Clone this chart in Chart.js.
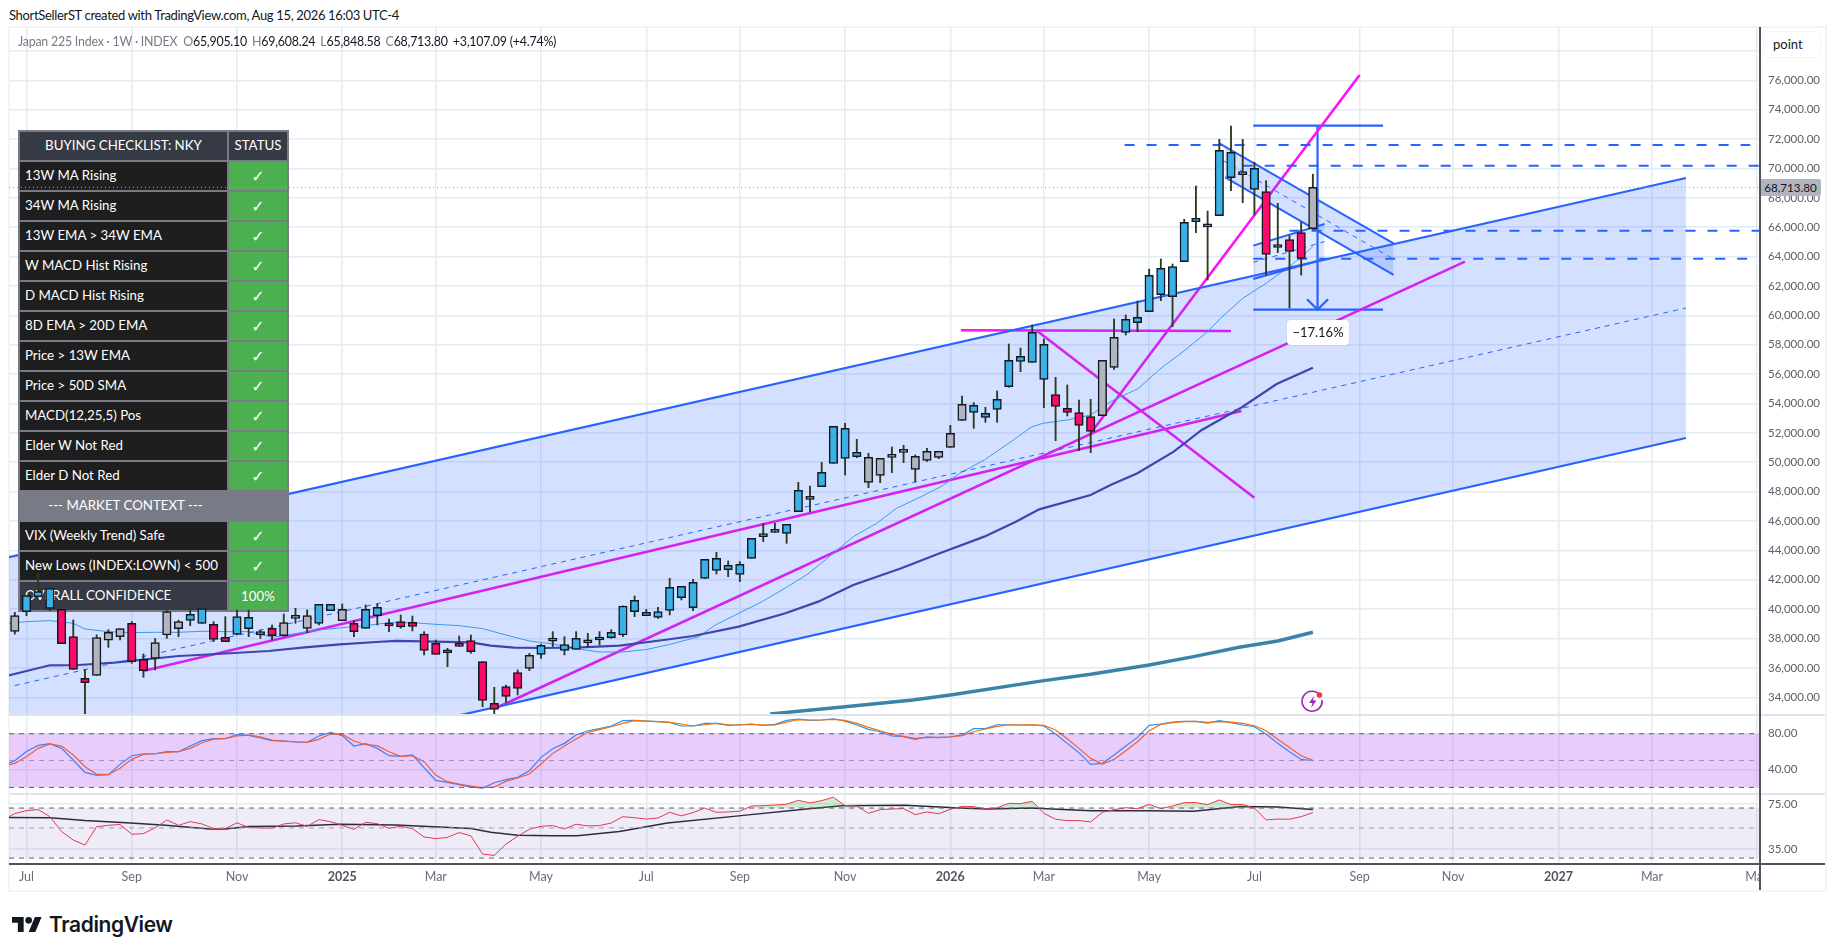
<!DOCTYPE html>
<html>
<head>
<meta charset="utf-8">
<title>Japan 225 Index</title>
<script src="https://cdn.jsdelivr.net/npm/chart.js@4"></script>
<style>
  html, body { margin: 0; width: 1835px; height: 951px; overflow: hidden; background: #fff; font-family: Lato, sans-serif; }
  canvas { position: absolute; display: block; }
  .box { position: absolute; box-sizing: border-box; }
  #frame { left: 8px; top: 26px; width: 1819px; height: 866px; border: 2px solid #f3f4f6; z-index: 0; }
  #credit { position: absolute; left: 9px; top: 7px; font-size: 13px; letter-spacing: -0.33px; color: #131722; white-space: nowrap; }
  #legend { position: absolute; left: 18px; top: 34px; font-size: 12.4px; letter-spacing: -0.22px; color: #131722; white-space: nowrap; z-index: 4; }
  #legend span { color: #787b86; }
  #legend b { font-weight: 400; margin-right: 5px; }
  #checklist { position: absolute; left: 18px; top: 130px; width: 271px; background: #787b86; padding: 2px; box-sizing: border-box;
    display: grid; grid-template-columns: 207px 58px; grid-auto-rows: 28px; gap: 2px; z-index: 2; font-size: 13.3px; color: #fff; }
  #checklist div { display: flex; align-items: center; padding: 0 0 2px 5px; box-sizing: border-box; white-space: nowrap; background: #1e1e1e; }
  #checklist .head { background: #363a45; justify-content: center; padding: 0 0 2px 0; }
  #checklist .ok { background: #4caf50; justify-content: center; padding: 0; font-family: "DejaVu Sans"; font-weight: 700; font-size: 16px; }
  #checklist .pct { background: #4caf50; justify-content: center; padding: 0; }
  #checklist .ctx { grid-column: 1 / 3; background: #787b86; justify-content: center; padding: 0 56px 2px 0; }
  #checklist .sum { background: #363a45; }
  #pointBox { left: 1763px; top: 31px; width: 58px; height: 27px; background: #fff; border: 1px solid #f0f3fa; border-radius: 5px;
    font-size: 13px; color: #131722; padding: 4px 0 0 9px; z-index: 5; }
  #lastPrice { left: 1760px; top: 179px; width: 61px; height: 17px; background: #b2b5be; border-radius: 0 2px 2px 0; color: #131722;
    font-size: 11.6px; line-height: 17px; text-align: center; z-index: 5; }
  #rangeLabel { left: 1287px; top: 320px; width: 62px; height: 25px; background: #fff; border-radius: 4px; color: #131722;
    font-size: 13px; line-height: 25px; text-align: center; z-index: 5; box-shadow: 0 0 2px rgba(0,0,0,.12); }
  #axisV { left: 1759px; top: 27px; width: 1.5px; height: 863px; background: #50535e; z-index: 6; }
  #axisH { left: 9px; top: 863px; width: 1816px; height: 1.5px; background: #50535e; z-index: 6; }
  #sep1, #sep2 { left: 9px; width: 1816px; height: 1.5px; background: #e0e3eb; z-index: 1; }
  #sep1 { top: 714px; } #sep2 { top: 793px; }
  #corner { left: 1760px; top: 865px; width: 65px; height: 25px; background: #fff; z-index: 5; }
  #bolt { position: absolute; left: 1300px; top: 689px; z-index: 5; }
  #logo { position: absolute; left: 12px; top: 912px; display: flex; align-items: center; gap: 7px; }
  #logo span { font-family: Inter, sans-serif; font-weight: 600; font-size: 21px; letter-spacing: -0.4px; color: #131722; }
</style>
</head>
<body>
<div id="credit">ShortSellerST created with TradingView.com, Aug 15, 2026 16:03 UTC-4</div>
<div class="box" id="frame"></div>
<div id="legend"><span>Japan 225 Index · 1W · INDEX</span>&nbsp; <b><span>O</span>65,905.10</b><b><span>H</span>69,608.24</b><b><span>L</span>65,848.58</b><b><span>C</span>68,713.80</b><b>+3,107.09 (+4.74%)</b></div>

<canvas id="priceBack" width="1816" height="687" style="left:9px;top:27px;z-index:1"></canvas>
<div id="checklist"></div>
<canvas id="priceFront" width="1750" height="687" style="left:9px;top:27px;z-index:3"></canvas>
<canvas id="stochPane" width="1816" height="79" style="left:9px;top:714px;z-index:1"></canvas>
<canvas id="rsiPane" width="1816" height="97" style="left:9px;top:793px;z-index:1"></canvas>

<div class="box" id="sep1"></div>
<div class="box" id="sep2"></div>
<div class="box" id="axisV"></div>
<div class="box" id="axisH"></div>
<div class="box" id="corner"></div>
<div class="box" id="pointBox">point</div>
<div class="box" id="lastPrice">68,713.80</div>
<div class="box" id="rangeLabel">−17.16%</div>
<svg id="bolt" width="26" height="26" viewBox="0 0 26 26">
  <path d="M19.5 5.5 A10 10 0 1 0 22 11" fill="none" stroke="#9c27b0" stroke-width="1.6"/>
  <path d="M14 7 L9 14 H12.5 L11 19 L16.5 11.5 H13 Z" fill="#9c27b0"/>
  <circle cx="19.5" cy="6" r="2.8" fill="#f23645"/>
</svg>
<div id="logo">
  <svg width="30" height="15" viewBox="0 4 36 18"><path d="M14 22H7V11H0V4h14v18zM28 22h-8l7.5-18h8L28 22z" fill="#131722"/><circle cx="20" cy="8" r="4" fill="#131722"/></svg>
  <span>TradingView</span>
</div>

<script>
// weeks are counted from the first week of Jul 2024 (= 0)
const firstCandleWeek = -1;
const opens = [38491,39829,40850,40056,39988,38128,35292,35496,37880,38128,39035,36585,36653,38241,38673,39239,39035,38967,38083,38286,38673,38270,38695,38196,39374,38695,39035,39897,39217,39035,38695,39557,38990,39149,39104,38309,37674,37055,37674,37856,36426,33590,34724,35677,35972,36925,37820,37198,37266,37705,37900,38060,38241,39829,39557,39444,39920,40782,40101,42098,42643,42688,42370,43460,44934,45229,45161,46636,47476,48338,49926,50267,50380,48633,49110,50335,50675,49518,50131,50335,51015,52853,53398,53057,53602,55145,56869,56801,55644,54600,53670,53375,53103,53171,56461,58844,59502,60251,61408,61272,63655,66377,66020,66786,69373,69577,68578,68420,64615,65152,65629,65905.10];
const highs = [39784,40919,42439,41418,39988,39262,35904,38250,38600,38673,39150,36948,38000,39900,39250,39942,40034,39149,39489,39942,39942,38580,38922,39671,40056,39942,40328,40328,40351,39217,40283,40351,39330,39602,39534,38468,37901,37334,38173,38241,36426,34679,34838,35859,36993,37629,38468,38128,38468,38354,38468,38600,40215,40896,39988,40124,42098,41554,42030,43391,43868,43278,43233,44821,45842,45842,45774,48633,48383,49994,52445,52649,51560,50607,50267,51038,51152,50494,50947,50743,52513,54510,54056,53738,54850,58049,57777,59343,58390,55780,55258,54237,54283,56938,59751,60024,60977,63155,63836,63495,66536,68805,67103,71982,72889,71982,70416,69168,67625,65424,66332,69608.24];
const lows = [38300,39557,40850,39897,37651,35904,32864,35496,37400,37900,36313,35360,35859,38014,38128,38876,39035,37800,37788,38240,38128,38014,37900,38150,39035,38400,38920,39897,39217,38128,38695,38922,38468,38700,38514,36880,36925,36086,37470,36993,33363,32864,33658,34157,35814,36653,37447,36880,37266,37402,37561,38014,38130,39489,39557,39375,39603,40624,39897,42098,42393,42212,41872,43460,44594,45229,44481,46636,46636,48338,49926,49132,50312,48270,48611,49291,49972,48678,50062,50244,51015,52853,52309,52717,52717,55100,56166,56801,53716,51469,53148,50789,50652,53171,56325,58663,58889,60251,61000,59230,63655,65629,62407,66786,68488,67671,66831,62747,64267,60500,62747,65848.58];
const closes = [39557,40919,41191,41418,37651,35904,34997,38060,38423,38673,36426,35814,37720,39829,39149,39648,40034,37946,37788,39489,39444,38300,38196,39081,39512,39557,40328,40328,39988,38468,39988,40124,38854,38786,38831,37198,36925,37025,37470,37107,33794,33181,34066,34611,36857,37538,37850,37583,38014,37735,38083,38423,40215,40601,39784,39829,41486,41554,41826,43391,43460,42983,43051,44821,45093,45365,45774,48088,47612,49314,52445,52309,50675,50335,50267,50539,50879,50403,50743,50743,51968,53943,53874,53330,54283,56938,57210,58843,58027,53806,53398,52513,52105,56938,58503,59729,59865,62724,63201,63314,66332,66604,66055,71233,71097,69736,70008,64154,64645,64358,63881,68713.80];
// b blue, p pink, g grey, one letter per candle
const candleKinds = [
  "g","bbb","ppp","ggg","pp","ggg","bb","pp","bbb","p","ggg","bb","g","p","bb",
  "pppppppppppp","g",
  "bbbbbbbbbbbbbbbbbbbbbbbbbbbb","ggggggggg","bbbbbbb",
  "pppp","gg","bbbbbbbbbbbb","p","b","pp","g"
].join("").split("");

// 78,000 sits behind the point button, so it keeps its grid line and has no label
const priceTicks = [78000,76000,74000,72000,70000,68000,66000,64000,62000,60000,58000,56000,54000,52000,50000,48000,46000,44000,42000,40000,38000,36000,34000];
const hiddenPriceLabel = 78000;
const timeWeeks = [0,9,18,27,35,44,53,61,70,79,87,96,105,114,122,131,139,148];
const timeLabels = ["Jul","Sep","Nov","2025","Mar","May","Jul","Sep","Nov","2026","Mar","May","Jul","Sep","Nov","2027","Mar","May"];
const lastClose = 68713.80;

const ma13Weeks = [-2,0,2,4,5,7,9,11,13,15,17,19,21,23,25,27,29,31,33,35,37,39,41,43,45,47,49,51,53,55,57.5,58.9,60.9,62.9,64.6,66.7,68.3,70.7,72.7,74.4,76.5,78.2,79.8,81.9,83.9,85.9,86.9,89,91,92.7,95.1,96.9,98.9,101,102.1,104,106,108,110];
const ma13Values = [39000,39149,39217,39035,38650,38468,38400,38423,38423,38491,38468,38468,38083,38330,38581,38740,38876,39081,39081,38967,38876,38673,38241,37833,37629,37311,37084,37084,37250,37600,38127,38922,39716,40510,41304,42325,43346,44935,45842,46863,47657,48338,49246,50153,51242,52377,52649,52876,53216,54124,55032,56326,57529,58890,59797,61159,62180,63314,64676];
const ma34Weeks = [-2,0,2,4.5,7.5,13,16.3,20.7,23.8,26.8,29.9,31.6,35,38,39.7,41.7,44.4,47.4,50.7,54.5,57,60.9,64.9,67.7,70.7,74.8,78.1,81.9,84.6,86.6,91,92.7,95,98.1,100.5,103.9,106.9,110];
const ma34Values = [35400,35791,36177,36199,36358,36812,36948,37152,37402,37606,37765,37833,37788,37742,37515,37379,37356,37402,37515,37901,38173,38808,39716,40510,41645,42779,43800,44935,45956,46795,47771,48452,49246,50720,52195,53727,55327,56437];
const ma200Weeks = [63.6,70,75.8,79,87,91,96,99.8,103.7,107,110];
const ma200Values = [32864,33363,33817,34157,35133,35564,36199,36767,37402,37833,38425];

// drawings: [week, price]
const channelUpper = [[-1.5,43540],[141.9,69350]];
const channelLower = [[-1.5,25840],[141.9,51650]];
const channelMid = [[-1,34800],[141.9,60500]];
const trendA = [[10.07,35812],[103.9,53489]];
const trendB = [[40.15,33272],[123,63652]];
const trendC = [[91,51971],[114,76361]];
const levelD = [[79.9,58982],[103,58933]];
const trendE = [[86.4,58950],[105,47587]];
const dashLevels = [
  [[93.9,71597],[147.4,71597]],
  [[104,70187],[148.2,70187]],
  [[108,65760],[148.2,65760]],
  [[104.9,63860],[147.2,63860]]
];
const flagUpper = [[102,71710],[116.9,64903]];
const flagLower = [[102.5,69395],[116.9,62747]];
const flagMid = [[102.3,70550],[116.9,63825]];
const riseUpper = [[104.9,64744],[111,66218]];
const riseLower = [[104.9,62475],[111,63836]];
const riseMid = [[104.9,63609],[111,65016]];
const rangeTop = [[104.9,72912],[116,72912]];
const rangeBottom = [[104.9,60387],[116,60387]];
const rangeStem = [[110.4,72912],[110.4,60387]];
const rangeHead = [[109.5,61091],[110.4,60387],[111.3,61091]];

// oscillators, one value per week from week -2 to 110
const oscStartWeek = -2;
const stochK = [44.6,49.8,60.2,66.9,68.8,63.6,50.6,36.8,33.4,34.2,45.7,55.4,57.6,57.6,59.9,59.9,66.2,72.2,74.4,74.4,78.9,78.1,75.2,72.2,71.8,70.7,70.3,77.4,81.5,77.8,66.2,68.8,63.6,55.4,54.7,56.2,42,27.9,25.6,23,20.4,19.3,25.2,28.6,31.2,38.6,53.6,63.2,69.2,78.5,83.3,85.6,88.6,94.5,94.9,94.1,93.4,92.7,88.6,88.6,91.5,91.5,89.3,90,90.8,89.3,90.4,94.9,96.4,94.9,95.3,96.7,94.1,89.7,84.8,82.2,77.4,76.6,73.7,76.6,75.5,76.6,78.5,85.6,85.6,90,90,89.7,90,88.6,79.6,69.2,58.8,45.7,46.9,56.2,66.2,75.9,89.3,90.8,93,93.8,93.8,91.9,94.5,92.3,89.7,87.8,79.6,69.2,59.9,51.3,49.8];
const stochD = [43.9,46.9,54.3,63.6,68.5,66.2,56.2,43.1,34.9,34.2,41.3,51.3,56.9,57.6,59.1,59.9,63.6,69.9,74,74.8,77.4,78.5,76.6,72.9,71.8,71,70.3,73.7,79.6,79.3,71.8,67.7,66.6,59.9,54.7,55.4,48.7,33.8,26.4,23.8,21.5,19.7,20.4,26.7,30.5,34.9,46.1,58,66.2,74,81.5,84.5,87.8,91.5,94.5,94.1,93.4,92.7,90.8,88.6,90,91.5,90,89.7,90.4,89.7,89.7,93,95.6,95.3,95.3,96,94.9,91.5,87.1,83.3,79.3,77,74.8,75.5,75.9,76.3,77.8,82.2,85.2,88.2,90,89.7,90,89.3,84.1,74.4,63.6,52.4,46.1,51.3,61,71,83.3,90.4,92.3,93.4,93.8,92.7,93.4,93,91.5,88.9,83.3,73.7,64.7,55.4,50.2];
const rsiLine = [57.2,63.7,67,68.2,60.5,47,40.7,37.4,51.1,52.2,53,44.9,45.4,50,57.2,52.2,55.6,53.5,49.4,49.4,54.5,50.3,50,49.7,53.5,54.5,51.4,57.5,55.6,52.2,48.8,55,53.7,49.7,51.4,49.4,42.9,41.7,42.6,46.2,43.7,32.1,31.4,38,43.4,48.8,51.4,52,49.1,53.2,51.7,52,54.3,60.5,59.4,58.1,59.1,65.1,61.3,64.8,70,65.1,65.5,66.3,72.5,72.9,73.7,74.6,79.8,76.3,79.4,84,72.9,72.5,64,68.1,68.9,69.3,62.6,65.5,63.6,68.5,72.1,71.7,68.9,70.4,75.8,75.4,78.4,64,57.9,56.6,56.6,55.3,65.1,68.1,70.4,69.3,74.6,69.3,72.5,76.7,76.7,74.2,80.3,74.2,74.2,70,57.2,58.1,57.9,60.5,64.8];
const rsiMaWeeks = [-2,2,5,8.9,11.9,15.7,17,19,23.1,26.8,31.6,38,39.7,42,45,47.1,50.7,54.8,60.9,66.9,69.7,75.1,79.8,82.2,85.9,91,96,99.8,103.8,107,110];
const rsiMaValues = [59.8,59.4,56.6,54.4,52.2,49.1,49.1,51.1,51.7,53.2,52.6,49.4,46.5,44.2,43.7,43.7,47,54.3,61.3,69.3,72.9,73.3,70,68.9,70,66.8,66.8,66.4,71.7,71.3,68.4];

const checklistRows = ["13W MA Rising","34W MA Rising","13W EMA > 34W EMA","W MACD Hist Rising","D MACD Hist Rising","8D EMA > 20D EMA","Price > 13W EMA","Price > 50D SMA","MACD(12,25,5) Pos","Elder W Not Red","Elder D Not Red"];
const contextRows = ["VIX (Weekly Trend) Safe","New Lows (INDEX:LOWN) < 500"];

const axisFont = "Lato";
const xMin = -1.4965, xMax = 148.15;
const gridColor = "#e4ecf3";
const pink = "#ff12ee";
const blue = "#2962ff";

function cell(cls, text) {
  const d = document.createElement("div");
  d.className = cls;
  d.textContent = text;
  document.getElementById("checklist").appendChild(d);
}
cell("head", "BUYING CHECKLIST: NKY");
cell("head", "STATUS");
checklistRows.forEach(r => { cell("", r); cell("ok", "✓"); });
cell("ctx", "--- MARKET CONTEXT ---");
contextRows.forEach(r => { cell("", r); cell("ok", "✓"); });
cell("sum", "OVERALL CONFIDENCE");
cell("pct", "100%");

const pairs = (xs, ys) => xs.map((x, i) => ({ x, y: ys[i] }));
const seg = (pts, color, width, extra = {}) => ({
  type: "line",
  data: pts.map(([x, y]) => ({ x, y })),
  borderColor: color,
  borderWidth: width,
  pointRadius: 0,
  fill: false,
  tension: 0,
  ...extra,
});
const oscData = (vals) => vals.map((y, i) => ({ x: oscStartWeek + i, y }));
const flat = (y) => [[xMin, y], [xMax, y]];
const isYear = (c) => /^20/.test(c.tick?.label || "");

function xScale(show) {
  return {
    type: "linear",
    min: xMin,
    max: xMax,
    bounds: "data",
    offset: false,
    afterBuildTicks(s) { s.ticks = timeWeeks.map(value => ({ value })); },
    afterFit(s) { s.height = show ? 27 : 0; s.paddingLeft = 0; s.paddingRight = 0; },
    border: { display: false },
    grid: { color: gridColor, lineWidth: 1.5, drawTicks: false, offset: false },
    ticks: {
      display: show,
      autoSkip: false,
      maxRotation: 0,
      padding: 6,
      callback: (v) => timeLabels[timeWeeks.indexOf(v)],
      font: (c) => ({ family: axisFont, size: 12.5, weight: isYear(c) ? "700" : "400" }),
      color: (c) => (isYear(c) ? "#50535e" : "#6a6d78"),
    },
  };
}

function yScale(type, min, max, tickVals, fmt) {
  return {
    type,
    position: "right",
    min,
    max,
    afterBuildTicks(s) { s.ticks = tickVals.map(value => ({ value })); },
    // tick padding would otherwise shrink the pane
    afterFit(s) { s.width = 66; s.paddingTop = 0; s.paddingBottom = 0; },
    border: { display: false },
    grid: { color: gridColor, lineWidth: 1.5, drawTicks: false },
    ticks: { autoSkip: false, padding: 9, color: "#5d606b", font: { family: axisFont, size: 11.5 }, callback: fmt },
  };
}

const baseOptions = (scales) => ({
  responsive: false,
  animation: false,
  devicePixelRatio: 1,
  layout: { autoPadding: false, padding: 0 },
  plugins: { legend: { display: false }, tooltip: { enabled: false } },
  scales,
});

const money = (v) => (v === hiddenPriceLabel ? "" : v.toLocaleString("en-US", { minimumFractionDigits: 2, maximumFractionDigits: 2 }));

// back layer of the price pane: everything that the checklist covers
new Chart(document.getElementById("priceBack"), {
  type: "line",
  data: {
    datasets: [
      seg(channelUpper, blue, 2.2, { fill: "+1", backgroundColor: "rgba(41,98,255,.2)" }),
      seg(channelLower, blue, 2.2),
      seg(channelMid, blue, 1, { borderDash: [5, 5] }),
      seg(flagUpper, blue, 2, { fill: "+1", backgroundColor: "rgba(41,98,255,.2)" }),
      seg(flagLower, blue, 2),
      seg(flagMid, blue, 1, { borderDash: [5, 5] }),
      seg(riseUpper, blue, 2, { fill: "+1", backgroundColor: "rgba(41,98,255,.15)" }),
      seg(riseLower, blue, 2),
      seg(riseMid, blue, 1, { borderDash: [5, 5] }),
      ...dashLevels.map(p => seg(p, blue, 2, { borderDash: [10, 12] })),
      { ...seg([], "#3c83aa", 3.5), data: pairs(ma200Weeks, ma200Values) },
      { ...seg([], "#403f9c", 2.2), data: pairs(ma34Weeks, ma34Values) },
      { ...seg([], "#42a5e8", 1), data: pairs(ma13Weeks, ma13Values) },
      seg(trendA, pink, 2.6),
      seg(trendB, pink, 2.6),
      seg(trendC, pink, 2.6),
      seg(levelD, pink, 2.6),
      seg(trendE, pink, 2.6),
      seg(rangeTop, blue, 2.2),
      seg(rangeBottom, blue, 2.2),
      seg(rangeStem, blue, 2.2),
      seg(rangeHead, blue, 2.2),
    ],
  },
  options: baseOptions({
    x: xScale(false),
    y: yScale("linear", 32862, 79628, priceTicks, money),
  }),
});

// front layer: candles and last price line sit above the checklist
const weekOf = (i) => firstCandleWeek + i;
const kindColor = { b: "#39b1e6", p: "#ff0a68", g: "#b2b5be" };
new Chart(document.getElementById("priceFront"), {
  type: "bar",
  data: {
    datasets: [
      {
        type: "line",
        data: flat(lastClose).map(([x, y]) => ({ x, y })),
        borderColor: "#a3a6af",
        borderWidth: 1,
        borderDash: [1, 3],
        pointRadius: 0,
        order: 3,
      },
      {
        data: highs.map((h, i) => ({ x: weekOf(i), y: [lows[i], h] })),
        backgroundColor: "#2a3a1c",
        borderWidth: 0,
        barThickness: 1.2,
        grouped: false,
        order: 2,
      },
      {
        data: opens.map((o, i) => ({ x: weekOf(i), y: [o, closes[i]] })),
        backgroundColor: candleKinds.map(k => kindColor[k]),
        borderColor: "#131722",
        borderWidth: 1.5,
        borderSkipped: false,
        barThickness: 8.5,
        minBarLength: 3,
        grouped: false,
        order: 1,
      },
    ],
  },
  options: baseOptions({
    x: { type: "linear", min: xMin, max: xMax, bounds: "data", offset: false, display: false, grid: { offset: false } },
    y: { type: "linear", min: 32862, max: 79628, display: false },
  }),
});

// stochastic pane
new Chart(document.getElementById("stochPane"), {
  type: "line",
  data: {
    datasets: [
      seg(flat(80), "#5d606b", 1, { borderDash: [5, 5], fill: "+1", backgroundColor: "rgba(165,60,245,.26)" }),
      seg(flat(20), "#5d606b", 1, { borderDash: [5, 5] }),
      seg(flat(50), "#a3a6af", 1, { borderDash: [5, 5] }),
      { ...seg([], "#ff6d00", 1.2), data: oscData(stochD) },
      { ...seg([], "#2196f3", 1.2), data: oscData(stochK) },
    ],
  },
  options: baseOptions({
    x: xScale(false),
    y: yScale("linear", 13.74, 102, [80, 40], (v) => v.toFixed(2)),
  }),
});

// rsi pane, log scale, carries the time axis
new Chart(document.getElementById("rsiPane"), {
  type: "line",
  data: {
    datasets: [
      seg(flat(70), "#5d606b", 1, { borderDash: [5, 5], fill: "+1", backgroundColor: "rgba(110,80,190,.11)" }),
      seg(flat(30), "#5d606b", 1, { borderDash: [5, 5] }),
      seg(flat(50), "#a3a6af", 1, { borderDash: [5, 5] }),
      { ...seg([], "#f23645", 1), data: oscData(rsiLine), fill: { target: { value: 70 }, above: "rgba(76,175,80,.25)", below: "transparent" } },
      { ...seg([], "#26282e", 1.5), data: pairs(rsiMaWeeks, rsiMaValues) },
    ],
  },
  options: baseOptions({
    x: xScale(true),
    y: yScale("logarithmic", 27.6, 90.3, [75, 35], (v) => v.toFixed(2)),
  }),
});
</script>
</body>
</html>
